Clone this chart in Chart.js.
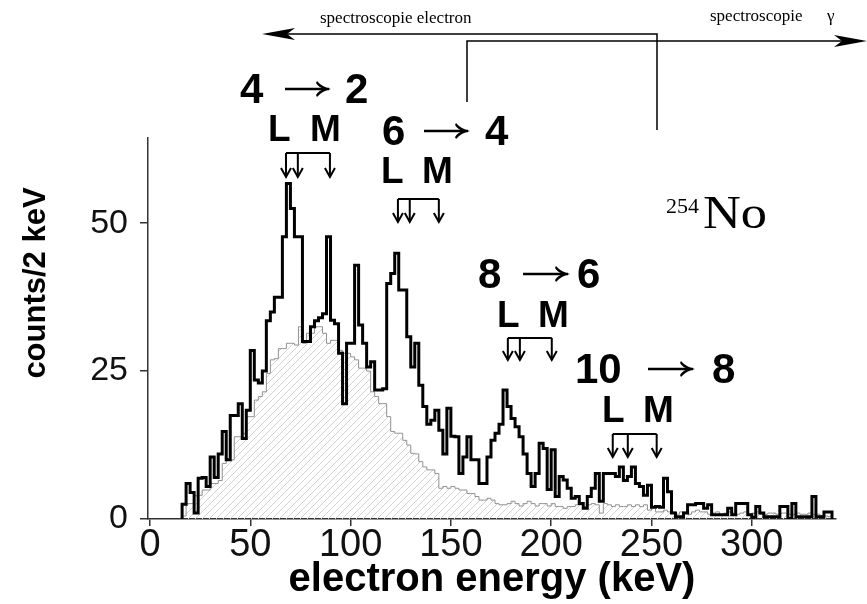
<!DOCTYPE html>
<html>
<head>
<meta charset="utf-8">
<script src="https://cdn.jsdelivr.net/npm/chart.js@4.4.1/dist/chart.umd.min.js"></script>
<style>
  html, body { margin: 0; padding: 0; background: #fff; }
  #spectrum { display: block; }
</style>
</head>
<body>
<canvas id="spectrum" width="867" height="604"></canvas>
<script>
// 254No conversion-electron spectrum, 2 keV bins starting at 16 keV
const BIN_START = 16;
const BIN_WIDTH = 2;

// measured spectrum (counts per bin)
const electronCounts = [
  2.5, 6, 4.5, 1, 6.9, 7, 5.5, 10.5, 7, 11,
  14.8, 10, 17.5, 17.5, 19.5, 13.6, 18.4, 28.5, 23.5, 23,
  25, 33.5, 35, 37.5, 37.5, 47.7, 56.7, 52.5, 47.7, 47.7,
  30, 30, 32.5, 33.5, 34, 34.7, 47.7, 33.6, 33, 28,
  19.5, 29.7, 29.7, 42.9, 32.8, 29.7, 25.7, 26.6, 21.8, 21.8,
  22, 39.8, 41.5, 44.9, 38.7, 38.7, 30.8, 25.7, 29.7, 22.6,
  19, 16, 16.7, 18.4, 15, 11, 18.7, 14, 13.9, 7.7,
  10.5, 13.9, 10, 10, 6, 6, 10.5, 13.3, 14.5, 16,
  21.8, 19, 17, 15.6, 13.9, 11, 7.7, 5.5, 7.7, 12.8,
  11.9, 5, 11.7, 3.8, 7.2, 6.6, 5.2, 3.5, 3.8, 2.6,
  1.8, 3.8, 5.2, 7.7, 3, 7.7, 7.7, 7.7, 7.2, 8.8,
  6.5, 7.2, 8.8, 6, 5.5, 4, 5.7, 2, 2.1, 2,
  6.9, 4.6, 1, 0.4, 0.4, 1, 2.4, 2.4, 2.6, 2.6,
  1.8, 2.4, 0.7, 0.7, 0.7, 0.7, 1.8, 0.7, 2.6, 2.6,
  2.6, 0.7, 0.3, 2.1, 1, 0.4, 0.4, 0.4, 0.4, 2.1,
  2.1, 0.1, 2.6, 0.4, 0.4, 0.4, 0.4, 3.8, 0.4, 0.4,
  1.2, 1.2
];

// simulated background (hatched)
const backgroundCounts = [
  0.5, 2.6, 2.6, 4, 4, 4.9, 4.9, 6, 6, 6.5,
  9.4, 10, 10, 13.9, 13.9, 14.5, 17.3, 17.3, 20.1, 20.7,
  21.5, 24.6, 26.9, 27.1, 28.8, 28.8, 29.7, 29.7, 29.4, 32.5,
  29.7, 31.4, 31.4, 32.5, 32.5, 31.4, 29.7, 30.2, 30.2, 28.5,
  28, 28, 27.4, 26.9, 25.5, 25.5, 25, 21.5, 20.7, 19.5,
  19.5, 17.3, 14.8, 14.5, 14.5, 13.3, 12.5, 11.1, 11, 9.7,
  8.8, 8.3, 8.3, 7.7, 5.2, 5.5, 5.2, 5.5, 5.2, 4.9,
  4.9, 4.3, 4.3, 3.8, 3.2, 3.2, 3.5, 3.2, 2.6, 2.4,
  2.4, 2.6, 3, 2.6, 2.2, 2.6, 3, 2.6, 2.2, 2.6,
  2.6, 2.2, 2.6, 2.1, 2.1, 1.8, 2.1, 2.1, 2.4, 2.4,
  2.1, 2.4, 2.6, 2.4, 1, 2.6, 2.4, 2.1, 2.4, 2.1,
  2.1, 2.4, 2.1, 2.4, 2.1, 2.4, 1.5, 2.1, 1.2, 1.2,
  1.5, 1.2, 1.2, 0.8, 1.2, 1.2, 0.8, 1.2, 1.5, 1.2,
  1.2, 0.8, 1, 1.2, 0.8, 1, 1.2, 1, 0.8, 1,
  1.2, 0.8, 1, 1.2, 0.8, 0.8, 1, 1, 0.8, 1,
  1, 0.8, 0.8, 1, 0.8, 0.8, 1, 0.8, 0.8, 0.6,
  0.5, 0.4
];

const xTickValues = [0, 50, 100, 150, 200, 250, 300];
const yTickValues = [0, 25, 50];

// ground-state band transitions and their L / M conversion lines (keV)
const spinFrom = [4, 6, 8, 10];
const spinTo = [2, 4, 6, 8];
const lineEnergies = [
  [67.8, 73.7, 89.7],
  [123.6, 129.5, 144],
  [178.4, 184.4, 200.3],
  [230.7, 238.2, 252.6]
];

// where each transition label sits (px)
const labelLayout = [
  { bracketY: 153, tipLen: 24, spinY: 103, fromX: 240, arrowX: [285, 331], toX: 345, shellY: 141, lX: 268, mX: 310 },
  { bracketY: 199, tipLen: 23, spinY: 145, fromX: 382, arrowX: [424, 470], toX: 485, shellY: 183, lX: 381, mX: 422 },
  { bracketY: 338, tipLen: 22, spinY: 288, fromX: 478, arrowX: [523, 570], toX: 577, shellY: 327, lX: 497, mX: 538 },
  { bracketY: 434, tipLen: 23, spinY: 383, fromX: 575, arrowX: [648, 695], toX: 712, shellY: 422, lX: 602, mX: 643 }
];

const SANS = '"Liberation Sans", Arial, sans-serif';
const SERIF = '"Liberation Serif", "Times New Roman", serif';

function toSteps(counts) {
  const pts = [{ x: BIN_START, y: 0 }];
  counts.forEach((c, i) => pts.push({ x: BIN_START + i * BIN_WIDTH, y: c }));
  pts.push({ x: BIN_START + counts.length * BIN_WIDTH, y: 0 });
  return pts;
}

function hatchPattern() {
  const c = document.createElement('canvas');
  c.width = c.height = 7;
  const g = c.getContext('2d');
  g.strokeStyle = '#d2d2d2';
  g.lineWidth = 1;
  g.beginPath();
  g.moveTo(0, 7); g.lineTo(7, 0);
  g.moveTo(-1, 1); g.lineTo(1, -1);
  g.moveTo(6, 8); g.lineTo(8, 6);
  g.stroke();
  return g.createPattern(c, 'repeat');
}

function arrowDown(ctx, x, y) {
  ctx.beginPath();
  ctx.moveTo(x - 5, y - 9);
  ctx.lineTo(x, y);
  ctx.lineTo(x + 5, y - 9);
  ctx.stroke();
}

// thin "→" between the spins
function arrowRight(ctx, x0, x1, y) {
  ctx.lineWidth = 2.5;
  ctx.beginPath();
  ctx.moveTo(x0, y);
  ctx.lineTo(x1 - 2, y);
  ctx.stroke();
  ctx.beginPath();
  ctx.moveTo(x1, y);
  ctx.quadraticCurveTo(x1 - 9, y - 2, x1 - 14, y - 8);
  ctx.lineTo(x1 - 15, y - 6);
  ctx.quadraticCurveTo(x1 - 12, y - 1, x1 - 6, y);
  ctx.quadraticCurveTo(x1 - 12, y + 1, x1 - 15, y + 6);
  ctx.lineTo(x1 - 14, y + 8);
  ctx.quadraticCurveTo(x1 - 9, y + 2, x1, y);
  ctx.fill();
}

function filledHead(ctx, tipX, y, dir) {
  // dir = -1 points left, +1 points right
  ctx.beginPath();
  ctx.moveTo(tipX, y);
  ctx.lineTo(tipX - dir * 33, y - 6);
  ctx.lineTo(tipX - dir * 25, y);
  ctx.lineTo(tipX - dir * 33, y + 6);
  ctx.closePath();
  ctx.fill();
}

const annotations = {
  id: 'annotations',
  afterDraw(chart) {
    const { ctx, scales: { x } } = chart;
    ctx.save();
    ctx.fillStyle = '#000';
    ctx.strokeStyle = '#000';
    ctx.textBaseline = 'alphabetic';
    ctx.textAlign = 'left';

    // transition labels with L / M line markers
    labelLayout.forEach((lay, i) => {
      const px = lineEnergies[i].map(e => x.getPixelForValue(e));
      ctx.lineWidth = 2;
      ctx.beginPath();
      ctx.moveTo(px[0], lay.bracketY);
      ctx.lineTo(px[px.length - 1], lay.bracketY);
      px.forEach(p => {
        ctx.moveTo(p, lay.bracketY);
        ctx.lineTo(p, lay.bracketY + lay.tipLen);
      });
      ctx.stroke();
      px.forEach(p => arrowDown(ctx, p, lay.bracketY + lay.tipLen));

      ctx.font = 'bold 42px ' + SANS;
      ctx.fillText(String(spinFrom[i]), lay.fromX, lay.spinY);
      ctx.fillText(String(spinTo[i]), lay.toX, lay.spinY);
      arrowRight(ctx, lay.arrowX[0], lay.arrowX[1], lay.spinY - 14);

      ctx.font = 'bold 37px ' + SANS;
      ctx.fillText('L', lay.lX, lay.shellY);
      ctx.fillText('M', lay.mX, lay.shellY);
    });

    // nucleus label
    ctx.font = '22px ' + SERIF;
    ctx.fillText('254', 666, 213);
    ctx.save();
    ctx.translate(703, 228);
    ctx.scale(1.14, 1);
    ctx.font = '46px ' + SERIF;
    ctx.fillText('No', 0, 0);
    ctx.restore();

    // electron / gamma spectroscopy ranges
    ctx.lineWidth = 1.5;
    ctx.beginPath();
    ctx.moveTo(657, 130); ctx.lineTo(657, 34); ctx.lineTo(280, 34);
    ctx.moveTo(467, 102); ctx.lineTo(467, 41); ctx.lineTo(850, 41);
    ctx.stroke();
    filledHead(ctx, 262, 34, -1);
    filledHead(ctx, 867, 41, 1);

    ctx.font = '17px ' + SERIF;
    ctx.fillText('spectroscopie electron', 320, 23);
    ctx.fillText('spectroscopie', 710, 21);
    ctx.fillText('γ', 827, 21);

    // axis titles
    ctx.font = 'bold 40px ' + SANS;
    ctx.textAlign = 'center';
    ctx.fillText('electron energy (keV)', 492, 591);
    ctx.save();
    ctx.translate(45, 283);
    ctx.rotate(-Math.PI / 2);
    ctx.font = 'bold 31px ' + SANS;
    ctx.fillText('counts/2 keV', 0, 0);
    ctx.restore();

    ctx.restore();
  }
};

new Chart(document.getElementById('spectrum'), {
  type: 'line',
  data: {
    datasets: [
      {
        label: 'electrons',
        data: toSteps(electronCounts),
        stepped: true,
        borderColor: '#000',
        borderWidth: 3,
        borderJoinStyle: 'miter',
        pointRadius: 0,
        fill: false
      },
      {
        label: 'background',
        data: toSteps(backgroundCounts),
        stepped: true,
        borderColor: '#929292',
        borderWidth: 1,
        pointRadius: 0,
        fill: 'origin',
        backgroundColor: hatchPattern()
      }
    ]
  },
  options: {
    responsive: false,
    animation: false,
    devicePixelRatio: 1,
    layout: { padding: { top: 138, right: 31, left: 0, bottom: 0 } },
    plugins: { legend: { display: false }, tooltip: { enabled: false } },
    scales: {
      x: {
        type: 'linear',
        min: -1,
        max: 342,
        afterBuildTicks: s => { s.ticks = xTickValues.map(v => ({ value: v })); },
        afterFit: s => { s.height = 85; },
        border: { display: true, color: '#333', width: 1.5 },
        grid: { display: true, drawOnChartArea: false, drawTicks: true, tickLength: 7, color: '#333', lineWidth: 1.5 },
        ticks: { color: '#111', padding: -3, maxRotation: 0, font: { family: SANS, size: 38 } }
      },
      y: {
        min: 0,
        max: 64.4,
        afterBuildTicks: s => { s.ticks = yTickValues.map(v => ({ value: v })); },
        afterFit: s => { s.width = 148; },
        border: { display: true, color: '#333', width: 1.5 },
        grid: { display: true, drawOnChartArea: false, drawTicks: true, tickLength: 8, color: '#333', lineWidth: 1.5 },
        ticks: { color: '#111', padding: 12, font: { family: SANS, size: 34 } }
      }
    }
  },
  plugins: [annotations]
});
</script>
</body>
</html>
